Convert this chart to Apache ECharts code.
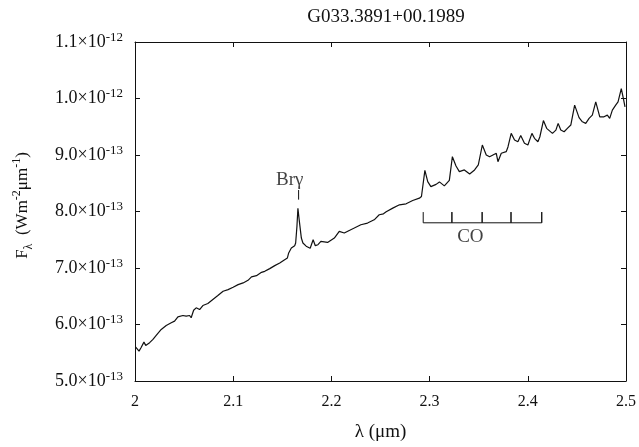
<!DOCTYPE html>
<html>
<head>
<meta charset="utf-8">
<script src="https://cdn.jsdelivr.net/npm/echarts@6/dist/echarts.min.js"></script>
<style>
  html, body { margin: 0; padding: 0; background: #fff; }
  #chart { width: 639px; height: 447px; }
</style>
</head>
<body>
<div id="chart"></div>
<script>
// Wavelength (µm) and flux density (units of 1e-13 W m^-2 µm^-1)
const wavelength = [
  2.0007, 2.0041, 2.0061, 2.0091, 2.0109, 2.0149, 2.0183, 2.0216, 2.0267, 2.0318,
  2.0369, 2.0403, 2.0437, 2.0488, 2.0521, 2.0556, 2.0572, 2.0597, 2.0623, 2.0658,
  2.0691, 2.0742, 2.0793, 2.0844, 2.0897, 2.0948, 2.0999, 2.1050, 2.1101, 2.1151,
  2.1186, 2.1237, 2.1288, 2.1321, 2.1338, 2.1372, 2.1423, 2.1474, 2.1524, 2.1552,
  2.1565, 2.1592, 2.1626, 2.1636, 2.1649, 2.1659, 2.1672, 2.1694, 2.1710, 2.1743,
  2.1784, 2.1814, 2.1836, 2.1863, 2.1893, 2.1961, 2.2030, 2.2080, 2.2131, 2.2182,
  2.2233, 2.2300, 2.2368, 2.2436, 2.2487, 2.2530, 2.2558, 2.2625, 2.2693, 2.2761,
  2.2828, 2.2896, 2.2917, 2.2952, 2.2981, 2.3013, 2.3066, 2.3100, 2.3150, 2.3201,
  2.3232, 2.3269, 2.3303, 2.3354, 2.3408, 2.3458, 2.3496, 2.3537, 2.3577, 2.3611,
  2.3645, 2.3679, 2.3696, 2.3730, 2.3780, 2.3798, 2.3831, 2.3865, 2.3899, 2.3928,
  2.3966, 2.4001, 2.4042, 2.4068, 2.4103, 2.4123, 2.4159, 2.4192, 2.4251, 2.4286,
  2.4309, 2.4336, 2.4370, 2.4403, 2.4438, 2.4477, 2.4522, 2.4556, 2.4590, 2.4624,
  2.4657, 2.4692, 2.4733, 2.4776, 2.4810, 2.4834, 2.4861, 2.4895, 2.4919, 2.4952,
  2.4973, 2.4990
];
const flux = [
  5.600, 5.529, 5.589, 5.688, 5.630, 5.678, 5.736, 5.806, 5.912, 5.983,
  6.031, 6.059, 6.136, 6.159, 6.147, 6.159, 6.119, 6.253, 6.295, 6.265,
  6.336, 6.371, 6.442, 6.512, 6.588, 6.618, 6.659, 6.706, 6.736, 6.782,
  6.842, 6.865, 6.923, 6.941, 6.913, 6.989, 7.042, 7.089, 7.148, 7.178,
  7.266, 7.354, 7.395, 7.442, 7.735, 8.056, 7.853, 7.530, 7.442, 7.386,
  7.350, 7.500, 7.395, 7.412, 7.470, 7.453, 7.530, 7.647, 7.619, 7.665,
  7.707, 7.765, 7.795, 7.853, 7.942, 7.959, 7.995, 8.060, 8.118, 8.136,
  8.194, 8.236, 8.265, 8.727, 8.529, 8.441, 8.480, 8.524, 8.453, 8.550,
  8.970, 8.806, 8.706, 8.736, 8.665, 8.736, 8.824, 9.177, 9.000, 8.970,
  9.000, 9.030, 8.882, 9.030, 9.059, 9.142, 9.383, 9.265, 9.235, 9.344,
  9.207, 9.177, 9.383, 9.295, 9.235, 9.323, 9.609, 9.472, 9.383, 9.441,
  9.560, 9.441, 9.411, 9.471, 9.530, 9.883, 9.662, 9.588, 9.560, 9.648,
  9.706, 9.941, 9.676, 9.676, 9.706, 9.648, 9.795, 9.883, 9.941, 10.174,
  10.001, 9.853
];
// Tick values
const xTicks = [2, 2.1, 2.2, 2.3, 2.4, 2.5];
const yTicks = [5, 6, 7, 8, 9, 10, 11];
// CO bandhead wavelengths and Br-gamma line
const coBandheads = [2.2935, 2.3227, 2.3535, 2.3829, 2.4142];
const brGamma = 2.1666;

const serif = '"Liberation Serif", "DejaVu Serif", serif';
const ink = '#111111';

const spectrum = wavelength.map((w, i) => [w, flux[i]]);

// CO marker: horizontal bar with upward ticks at each bandhead
const barY = 7.80, tickTop = 7.99;
const coBracket = [];
coBandheads.forEach((w, i) => {
  if (i === 0) coBracket.push([w, tickTop], [w, barY]);
  else coBracket.push([w, barY], [w, tickTop], [w, barY]);
});

function yLabel(v) {
  const exp = v >= 10 ? -12 : -13;
  const m = v >= 10 ? v / 10 : v;
  return '{b|' + m.toFixed(1) + '×10}{s|' + exp + '}';
}

const chart = echarts.init(document.getElementById('chart'), null, { renderer: 'canvas' });
chart.setOption({
  animation: false,
  backgroundColor: '#ffffff',
  title: {
    text: 'G033.3891+00.1989',
    left: 381, top: 3, textAlign: 'center',
    textStyle: { fontFamily: serif, fontSize: 19, fontWeight: 'normal', color: ink }
  },
  grid: { left: 135, right: 12, top: 42, bottom: 65 },
  xAxis: [{
    type: 'value', min: 2, max: 2.5, interval: 0.1,
    name: 'λ (μm)', nameLocation: 'middle', nameGap: 42,
    nameTextStyle: { fontFamily: serif, fontSize: 19, color: ink },
    axisLine: { lineStyle: { color: ink, width: 1 } },
    axisTick: { inside: true, length: 5, lineStyle: { color: ink } },
    axisLabel: {
      fontFamily: serif, fontSize: 16, color: ink, margin: 13,
      formatter: v => { const t = xTicks.find(x => Math.abs(x - v) < 1e-6); return t === undefined ? '' : String(t); }
    },
    splitLine: { show: false }
  }, {
    type: 'value', min: 2, max: 2.5, interval: 0.1, position: 'top',
    axisLine: { lineStyle: { color: ink, width: 1 } },
    axisTick: { inside: true, length: 5, lineStyle: { color: ink } },
    axisLabel: { show: false }, splitLine: { show: false }
  }],
  yAxis: [{
    type: 'value', min: yTicks[0], max: yTicks[yTicks.length - 1], interval: 1,
    name: '{b|F}{sub|λ}{b|  (Wm}{sup|-2}{b|μm}{sup|-1}{b|)}',
    nameLocation: 'middle', nameGap: 100, nameRotate: 90,
    nameTextStyle: {
      padding: [0, 0, 0, 12],
      rich: {
        b: { fontFamily: serif, fontSize: 17, color: ink, lineHeight: 24, verticalAlign: 'middle' },
        sup: { fontFamily: serif, fontSize: 12, color: ink, lineHeight: 13, verticalAlign: 'top' },
        sub: { fontFamily: serif, fontSize: 12, color: ink, lineHeight: 13, verticalAlign: 'bottom' }
      }
    },
    axisLine: { show: true, lineStyle: { color: ink, width: 1 } },
    axisTick: { show: true, inside: true, length: 5, lineStyle: { color: ink } },
    axisLabel: {
      margin: 12, formatter: yLabel,
      rich: {
        b: { fontFamily: serif, fontSize: 18, color: ink, lineHeight: 22, verticalAlign: 'middle' },
        s: { fontFamily: serif, fontSize: 13, color: ink, lineHeight: 12, verticalAlign: 'top' }
      }
    },
    splitLine: { show: false }
  }, {
    type: 'value', min: yTicks[0], max: yTicks[yTicks.length - 1], interval: 1, position: 'right',
    axisLine: { show: true, lineStyle: { color: ink, width: 1 } },
    axisTick: { show: true, inside: true, length: 5, lineStyle: { color: ink } },
    axisLabel: { show: false }, splitLine: { show: false }
  }],
  series: [{
    name: 'spectrum', type: 'line', data: spectrum, showSymbol: false, symbol: 'none',
    lineStyle: { color: ink, width: 1.2 }, silent: true
  }, {
    name: 'CO', type: 'line', data: coBracket, showSymbol: false, symbol: 'none',
    lineStyle: { color: ink, width: 1 }, silent: true
  }, {
    name: 'Brg tick', type: 'line', data: [[brGamma, 8.21], [brGamma, 8.38]],
    showSymbol: false, symbol: 'none', lineStyle: { color: ink, width: 1 }, silent: true
  }, {
    name: 'labels', type: 'scatter', symbolSize: 0, silent: true,
    data: [
      { value: [2.1575, 8.56], label: { formatter: 'Brγ' } },
      { value: [2.3415, 7.545], label: { formatter: 'CO' } }
    ],
    label: { show: true, position: 'inside', fontFamily: serif, fontSize: 19, color: ink }
  }]
});
</script>
</body>
</html>
